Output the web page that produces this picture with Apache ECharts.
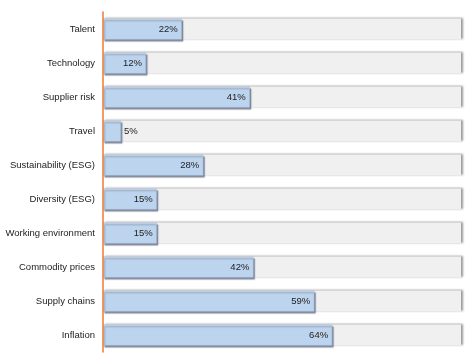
<!DOCTYPE html>
<html><head><meta charset="utf-8">
<script src="https://cdn.jsdelivr.net/npm/echarts@6/dist/echarts.min.js"></script>
<style>html,body{margin:0;padding:0;background:#fff}#c{width:474px;height:364px}</style>
</head><body><div id="c"></div>
<script>
const categories = ["Talent","Technology","Supplier risk","Travel","Sustainability (ESG)","Diversity (ESG)","Working environment","Commodity prices","Supply chains","Inflation"];
const values = [22,12,41,5,28,15,15,42,59,64];
const fullScale = [100,100,100,100,100,100,100,100,100,100];

const barData = values.map(v => v < 8 ? {value:v,label:{position:'right',distance:3}} : v);

const chart = echarts.init(document.getElementById('c'));
chart.setOption({
  animation:false,
  grid:{left:103,right:13,top:12,bottom:12,containLabel:false,outerBoundsMode:'none'},
  xAxis:{type:'value',min:0,max:100,show:false},
  yAxis:{type:'category',data:categories,inverse:true,z:10,
    axisLine:{lineStyle:{color:'#f07a32',width:1.5}},
    axisTick:{show:false},
    axisLabel:{color:'#222',fontSize:9.5,fontFamily:'Liberation Sans, Arial',margin:8}},
  series:[
    {type:'bar',data:fullScale,barWidth:21,barGap:'-100%',silent:true,z:1,
     itemStyle:{color:'#f0f0f0',shadowColor:'rgba(0,0,0,0.4)',shadowBlur:2,shadowOffsetX:2,shadowOffsetY:-1}},
    {type:'bar',data:barData,barWidth:21,z:2,
     itemStyle:{color:'#bdd4ee',borderColor:'#a9bfd8',borderWidth:0.5,shadowColor:'rgba(60,70,90,0.6)',shadowBlur:1,shadowOffsetX:1.5,shadowOffsetY:2},
     label:{show:true,position:'insideRight',formatter:'{c}%',color:'#222',fontSize:9.5,fontFamily:'Liberation Sans, Arial',distance:4}}
  ]
});
</script></body></html>
